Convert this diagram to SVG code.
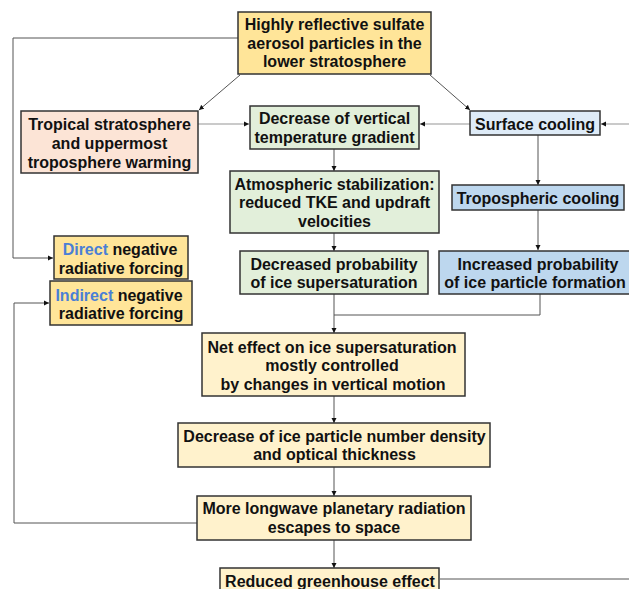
<svg xmlns="http://www.w3.org/2000/svg" width="629" height="589" viewBox="0 0 629 589">
<defs>
<style>
.box{stroke:#333;stroke-width:1.5}
.t{font-family:"Liberation Sans",Arial,sans-serif;font-weight:bold;font-size:16px;fill:#111;text-anchor:middle}
.blue{fill:#4a7fd6}
.c{fill:none;stroke:#555;stroke-width:1}
.cl{fill:none;stroke:#b8b8b8;stroke-width:1.5}
.y{fill:#FFE599}
.p{fill:#FCE4D6}
.g{fill:#E2EFDA}
.lb{fill:#DEEBF7}
.b{fill:#BDD7EE}
.ly{fill:#FFF2CC}
</style>
<marker id="ah" markerWidth="6" markerHeight="6" refX="5" refY="3" orient="auto" markerUnits="userSpaceOnUse">
<path d="M0,0.5 L5,3 L0,5.5 Z" fill="#111"/>
</marker>
</defs>
<rect width="629" height="589" fill="#fff"/>
<g id="connectors">
<path class="c" d="M240,75 L199,110" marker-end="url(#ah)"/>
<path class="c" d="M430,75 L470,110" marker-end="url(#ah)"/>
<path class="cl" d="M198,124 L249,124" marker-end="url(#ah)"/>
<path class="cl" d="M470,124 L420,124" marker-end="url(#ah)"/>
<path class="cl" d="M629,124 L601,124" marker-end="url(#ah)"/>
<path class="c" d="M334,149 L334,171" marker-end="url(#ah)"/>
<path class="c" d="M334,233 L334,251" marker-end="url(#ah)"/>
<path class="c" d="M538,135 L538,185" marker-end="url(#ah)"/>
<path class="c" d="M538,210 L538,250" marker-end="url(#ah)"/>
<path class="c" d="M540,294 L540,315 L334,315"/>
<path class="c" d="M334,294 L334,333" marker-end="url(#ah)"/>
<path class="c" d="M334,396 L334,423" marker-end="url(#ah)"/>
<path class="c" d="M334,467 L334,496" marker-end="url(#ah)"/>
<path class="c" d="M334,540 L334,568" marker-end="url(#ah)"/>
<path class="c" d="M238,38 L13,38 L13,258 L53,258" marker-end="url(#ah)"/>
<path class="c" d="M197,523 L14,523 L14,303 L49,303" marker-end="url(#ah)"/>
<path class="c" d="M440,579 L629,579"/>
</g>
<g id="aerosol">
<rect class="box y" x="238" y="12" width="193" height="62"/>
<text class="t" x="334.5" y="30">Highly reflective sulfate</text>
<text class="t" x="334.5" y="48.5">aerosol particles in the</text>
<text class="t" x="334.5" y="67">lower stratosphere</text>
</g>
<g id="tropical">
<rect class="box p" x="21" y="111" width="177" height="62"/>
<text class="t" x="109.5" y="129.5">Tropical stratosphere</text>
<text class="t" x="109.5" y="148.5">and uppermost</text>
<text class="t" x="109.5" y="167.5">troposphere warming</text>
</g>
<g id="gradient">
<rect class="box g" x="250" y="106" width="169" height="43"/>
<text class="t" x="334.5" y="123.5">Decrease of vertical</text>
<text class="t" x="334.5" y="142.5">temperature gradient</text>
</g>
<g id="surface">
<rect class="box lb" x="470" y="111" width="130" height="24"/>
<text class="t" x="535" y="129.5">Surface cooling</text>
</g>
<g id="stabilization">
<rect class="box g" x="230" y="171" width="209" height="62"/>
<text class="t" x="334.5" y="189.5">Atmospheric stabilization:</text>
<text class="t" x="334.5" y="208">reduced TKE and updraft</text>
<text class="t" x="334.5" y="226.5">velocities</text>
</g>
<g id="tropospheric">
<rect class="box b" x="452" y="185" width="172" height="25"/>
<text class="t" x="538" y="203.5">Tropospheric cooling</text>
</g>
<g id="direct">
<rect class="box y" x="54" y="236" width="134" height="43"/>
<text class="t" x="120" y="254.5"><tspan class="blue">Direct</tspan> negative</text>
<text class="t" x="121" y="273.5">radiative forcing</text>
</g>
<g id="indirect">
<rect class="box y" x="50" y="281" width="142" height="44"/>
<text class="t" x="119" y="300.5"><tspan class="blue">Indirect</tspan> negative</text>
<text class="t" x="121" y="319">radiative forcing</text>
</g>
<g id="decreased">
<rect class="box g" x="240" y="251" width="188" height="43"/>
<text class="t" x="334" y="269.5">Decreased probability</text>
<text class="t" x="334" y="288">of ice supersaturation</text>
</g>
<g id="increased">
<rect class="box b" x="439" y="251" width="192" height="43"/>
<text class="t" x="538" y="269.5">Increased probability</text>
<text class="t" x="535" y="288">of ice particle formation</text>
</g>
<g id="net">
<rect class="box ly" x="202" y="333" width="263" height="63"/>
<text class="t" x="332" y="352.5">Net effect on ice supersaturation</text>
<text class="t" x="332" y="370.5">mostly controlled</text>
<text class="t" x="333" y="389.5">by changes in vertical motion</text>
</g>
<g id="density">
<rect class="box ly" x="178" y="423" width="312" height="44"/>
<text class="t" x="334.5" y="441.5">Decrease of ice particle number density</text>
<text class="t" x="334.5" y="460">and optical thickness</text>
</g>
<g id="longwave">
<rect class="box ly" x="197" y="496" width="274" height="44"/>
<text class="t" x="334" y="513.5">More longwave planetary radiation</text>
<text class="t" x="334" y="532.5">escapes to space</text>
</g>
<g id="greenhouse">
<rect class="box ly" x="220" y="568" width="219" height="30"/>
<text class="t" x="330" y="586.5">Reduced greenhouse effect</text>
</g>
</svg>
